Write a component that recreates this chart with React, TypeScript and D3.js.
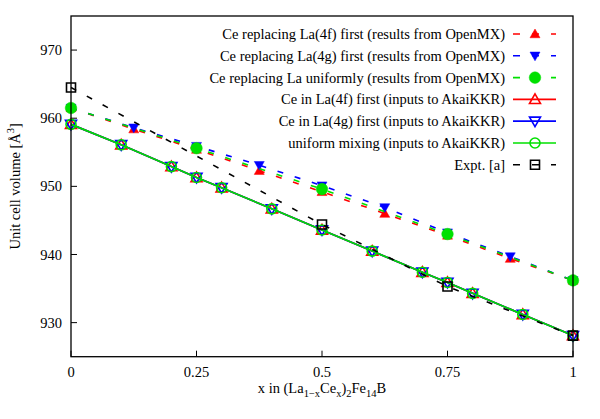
import React from "react";
import * as d3 from "d3";

// OpenMX results (filled markers, dashed lines)
const xOpenMX = [0, 0.125, 0.25, 0.375, 0.5, 0.625, 0.75, 0.875, 1];
const vOpenMX4f = [961.5, 958.4, 955.4, 952.3, 949.2, 946.0, 942.8, 939.4, 936.2];
const vOpenMX4g = [961.5, 958.6, 955.9, 953.1, 950.1, 946.9, 943.2, 939.7, 936.2];
const xOpenMXUniform = [0, 0.25, 0.5, 0.75, 1];
const vOpenMXUniform = [961.5, 955.6, 949.6, 943.0, 936.2];

// AkaiKKR inputs (open markers, solid lines)
const xKKR = [0, 0.1, 0.2, 0.25, 0.3, 0.4, 0.5, 0.6, 0.7, 0.75, 0.8, 0.9, 1];
const vKKR4f = [959.1, 956.1, 952.9, 951.3, 949.8, 946.7, 943.6, 940.5, 937.4, 935.9, 934.3, 931.2, 928.1];
const vKKR4g = [959.1, 956.1, 952.9, 951.3, 949.8, 946.7, 943.6, 940.5, 937.4, 935.9, 934.3, 931.2, 928.1];
const vKKRUniform = [959.1, 956.1, 952.9, 951.3, 949.8, 946.7, 943.6, 940.5, 937.4, 935.9, 934.3, 931.2, 928.1];

// Experiment
const xExpt = [0, 0.5, 0.75, 1];
const vExpt = [964.5, 944.4, 935.3, 928.1];

const xTicks = [0, 0.25, 0.5, 0.75, 1];
const xTickLabels = ["0", "0.25", "0.5", "0.75", "1"];
const yTicks = [930, 940, 950, 960, 970];

const legendLabels = [
  "Ce replacing La(4f) first (results from OpenMX)",
  "Ce replacing La(4g) first (results from OpenMX)",
  "Ce replacing La uniformly (results from OpenMX)",
  "Ce in La(4f) first (inputs to AkaiKKR)",
  "Ce in La(4g) first (inputs to AkaiKKR)",
  "uniform mixing (inputs to AkaiKKR)",
  "Expt. [a]",
];

type Marker = "triUp" | "triDown" | "circle" | "square";

interface Series {
  xs: number[];
  vs: number[];
  color: string;
  dashed: boolean;
  marker: Marker;
  filled: boolean;
}

const series: Series[] = [
  { xs: xOpenMX, vs: vOpenMX4f, color: "#ff0000", dashed: true, marker: "triUp", filled: true },
  { xs: xOpenMX, vs: vOpenMX4g, color: "#0000ff", dashed: true, marker: "triDown", filled: true },
  { xs: xOpenMXUniform, vs: vOpenMXUniform, color: "#00e000", dashed: true, marker: "circle", filled: true },
  { xs: xKKR, vs: vKKR4f, color: "#ff0000", dashed: false, marker: "triUp", filled: false },
  { xs: xKKR, vs: vKKR4g, color: "#0000ff", dashed: false, marker: "triDown", filled: false },
  { xs: xKKR, vs: vKKRUniform, color: "#00e000", dashed: false, marker: "circle", filled: false },
  { xs: xExpt, vs: vExpt, color: "#000000", dashed: true, marker: "square", filled: false },
];

const W = 600;
const H = 419;
const left = 71;
const right = 573;
const top = 16;
const bottom = 356.7;

const x = d3.scaleLinear().domain([0, 1]).range([left, right]);
const y = d3.scaleLinear().domain([925, 975]).range([bottom, top]);

const FONT = "'Liberation Serif', 'Times New Roman', serif";

// Point glyph outlines, centred on the data point
function markerPath(m: Marker, filled: boolean): string {
  const p = d3.path();
  const hw = filled ? 5 : 5.5;
  if (m === "triUp") {
    p.moveTo(0, -hw);
    p.lineTo(hw, hw * 0.75);
    p.lineTo(-hw, hw * 0.75);
    p.closePath();
  } else if (m === "triDown") {
    p.moveTo(0, hw);
    p.lineTo(hw, -hw * 0.75);
    p.lineTo(-hw, -hw * 0.75);
    p.closePath();
  } else if (m === "square") {
    p.rect(-4.5, -4.5, 9, 9);
  } else {
    const r = filled ? 5.8 : 5;
    p.moveTo(r, 0);
    p.arc(0, 0, r, 0, Math.PI * 2);
    p.closePath();
  }
  return p.toString();
}

function MarkerShape({ s, cx, cy }: { s: Series; cx: number; cy: number }) {
  return (
    <path
      d={markerPath(s.marker, s.filled)}
      transform={`translate(${cx},${cy})`}
      fill={s.filled ? s.color : "none"}
      stroke={s.color}
      strokeWidth={s.filled ? 0.5 : 1.6}
    />
  );
}

export default function App() {
  const line = d3
    .line<[number, number]>()
    .x((d) => x(d[0]))
    .y((d) => y(d[1]));

  const legendTextX = 505;
  const sampleX0 = 513;
  const sampleX1 = 556;
  const sampleMid = 535;
  const rowY = (i: number) => 34 + i * 21.8;

  return (
    <svg
      width={W}
      height={H}
      style={{ position: "absolute", left: 0, top: 0, background: "#fff" }}
      fontFamily={FONT}
    >
      <rect x={0} y={0} width={W} height={H} fill="#fff" />

      {/* axis ticks */}
      {yTicks.map((t) => (
        <g key={`yt${t}`}>
          <line x1={left} x2={left + 6} y1={y(t)} y2={y(t)} stroke="#000" strokeWidth={1} />
          <text x={left - 9} y={y(t)} dy="0.35em" textAnchor="end" fontSize={14.5}>
            {t}
          </text>
        </g>
      ))}
      {xTicks.map((t, i) => (
        <g key={`xt${t}`}>
          <line x1={x(t)} x2={x(t)} y1={bottom} y2={bottom - 6} stroke="#000" strokeWidth={1} />
          <text x={x(t)} y={bottom + 15} dy="0.35em" textAnchor="middle" fontSize={14.5}>
            {xTickLabels[i]}
          </text>
        </g>
      ))}

      {/* axis titles */}
      <text x={322} y={393} textAnchor="middle" fontSize={14.5}>
        x in (La
        <tspan fontSize={10.5} dy={4}>1−x</tspan>
        <tspan dy={-4}>Ce</tspan>
        <tspan fontSize={10.5} dy={4}>x</tspan>
        <tspan dy={-4}>)</tspan>
        <tspan fontSize={10.5} dy={4}>2</tspan>
        <tspan dy={-4}>Fe</tspan>
        <tspan fontSize={10.5} dy={4}>14</tspan>
        <tspan dy={-4}>B</tspan>
      </text>
      <text
        transform={`translate(20,${(top + bottom) / 2}) rotate(-90)`}
        textAnchor="middle"
        fontSize={14.5}
      >
        Unit cell volume [Å
        <tspan fontSize={10.5} dy={-6}>3</tspan>
        <tspan dy={6}>]</tspan>
      </text>

      {/* data */}
      {series.map((s, si) => {
        const pts: [number, number][] = s.xs.map((xv, i) => [xv, s.vs[i]]);
        return (
          <g key={`s${si}`}>
            <path
              d={line(pts) || ""}
              fill="none"
              stroke={s.color}
              strokeWidth={s.dashed ? 1.6 : 1.7}
              strokeDasharray={s.dashed ? "6,12" : undefined}
            />
            {pts.map((p, i) => (
              <MarkerShape key={i} s={s} cx={x(p[0])} cy={y(p[1])} />
            ))}
          </g>
        );
      })}

      {/* legend */}
      {series.map((s, i) => (
        <g key={`lg${i}`}>
          <text x={legendTextX} y={rowY(i)} dy="0.35em" textAnchor="end" fontSize={14.5}>
            {legendLabels[i]}
          </text>
          <line
            x1={sampleX0}
            x2={sampleX1}
            y1={rowY(i)}
            y2={rowY(i)}
            stroke={s.color}
            strokeWidth={s.dashed ? 1.6 : 1.7}
            strokeDasharray={s.dashed ? "7,12" : undefined}
          />
          <MarkerShape s={s} cx={sampleMid} cy={rowY(i)} />
        </g>
      ))}

      {/* frame */}
      <rect
        x={left}
        y={top}
        width={right - left}
        height={bottom - top}
        fill="none"
        stroke="#000"
        strokeWidth={1.3}
      />
    </svg>
  );
}
